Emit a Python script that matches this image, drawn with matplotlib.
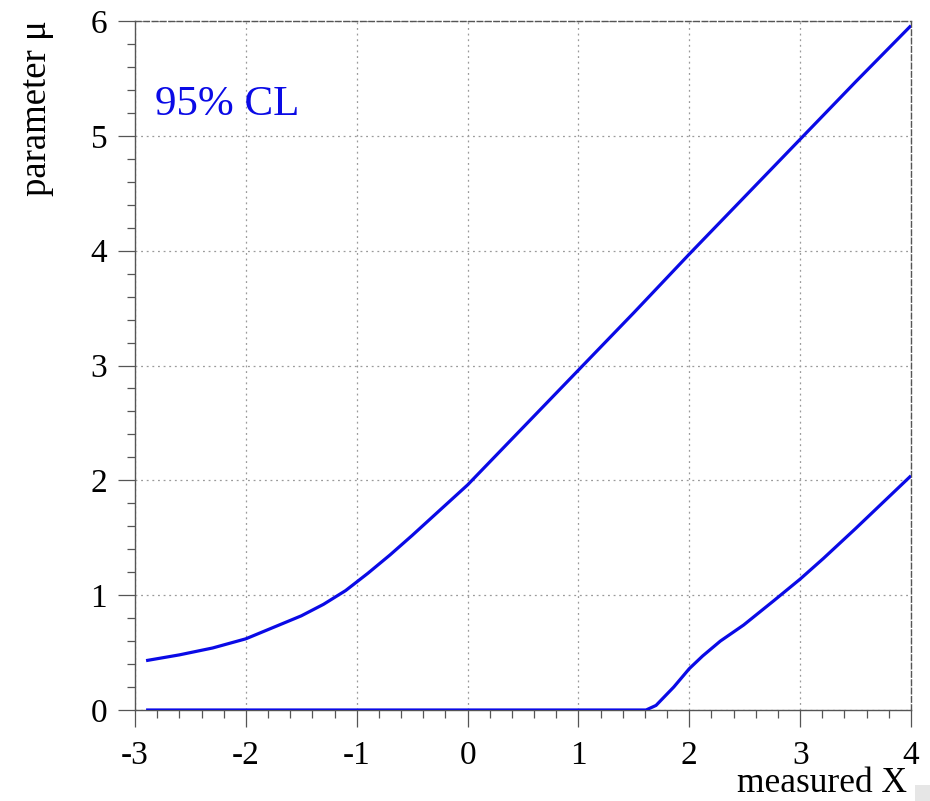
"""
Feldman-Cousins style confidence belt: 95% CL interval on a bounded
parameter mu as a function of the measured value X.
"""

import matplotlib
matplotlib.use("Agg")
import matplotlib.pyplot as plt
from matplotlib.patches import Rectangle
from matplotlib.ticker import MultipleLocator

# upper edge of the belt
x_upper = [-2.9, -2.6, -2.3, -2.0, -1.7, -1.5, -1.3, -1.1, -0.9, -0.7, -0.5,
           -0.25, 0.0, 0.5, 1.0, 1.5, 2.0, 2.5, 3.0, 3.5, 4.0]
mu_upper = [0.43, 0.48, 0.54, 0.62, 0.74, 0.82, 0.92, 1.04, 1.19, 1.35, 1.52,
            1.74, 1.96, 2.46, 2.96, 3.46, 3.97, 4.47, 4.97, 5.47, 5.96]

# lower edge of the belt (pinned at the physical boundary mu = 0)
x_lower = [-2.9, 1.61, 1.70, 1.86, 2.0, 2.12, 2.28, 2.49, 2.76, 3.0, 3.21,
           3.5, 3.75, 4.0]
mu_lower = [0.0, 0.0, 0.04, 0.20, 0.36, 0.47, 0.60, 0.74, 0.95, 1.14, 1.32,
            1.58, 1.81, 2.04]

x_ticks = [-3, -2, -1, 0, 1, 2, 3, 4]
y_ticks = [0, 1, 2, 3, 4, 5, 6]

BLUE = "#0a0ae6"
AXIS = "#555555"

plt.rcParams["font.family"] = ["Liberation Serif", "DejaVu Serif"]
plt.rcParams["axes.unicode_minus"] = False

fig = plt.figure(figsize=(9.3, 8.01), dpi=100)
ax = fig.add_axes([135 / 930, 91 / 801, 776 / 930, 689 / 801])

ax.plot(x_upper, mu_upper, color=BLUE, lw=2.3, solid_capstyle="butt", zorder=3)
ax.plot(x_lower, mu_lower, color=BLUE, lw=2.3, solid_capstyle="butt", zorder=3)

ax.text(-2.82, 5.18, "95% CL", color=BLUE, fontsize=31, va="baseline", ha="left")

ax.set_xlim(-3, 4)
ax.set_ylim(0, 6)
ax.set_xticks(x_ticks)
ax.set_yticks(y_ticks)
ax.xaxis.set_minor_locator(MultipleLocator(0.2))
ax.yaxis.set_minor_locator(MultipleLocator(0.2))

ax.tick_params(which="major", direction="out", length=12, width=0.9,
               color=AXIS, labelsize=24, pad=8)
ax.tick_params(which="minor", direction="out", length=6, width=0.9, color=AXIS)
ax.tick_params(axis="x", which="major", pad=10)

ax.grid(True, which="major", color="#9a9a9a", lw=0.9, ls=(0, (1.5, 3)))
ax.set_axisbelow(True)

for side in ("left", "bottom"):
    ax.spines[side].set_color(AXIS)
    ax.spines[side].set_linewidth(1.0)
for side in ("top", "right"):
    ax.spines[side].set_color(AXIS)
    ax.spines[side].set_linewidth(1.0)
    ax.spines[side].set_linestyle((0, (4, 2)))

fig.text(907 / 930, 1 - 792 / 801, "measured X", fontsize=25.5,
         ha="right", va="baseline")
fig.text(37 / 930, 1 - 20 / 801, "parameter \u03bc", fontsize=26.5,
         rotation=90, ha="center", va="top")

# small grey tab in the lower right corner
fig.patches.append(Rectangle((915 / 930, 0), 15 / 930, 16 / 801,
                             transform=fig.transFigure, color="#e6e6e6", lw=0))

fig.savefig("out.png", dpi=100)
